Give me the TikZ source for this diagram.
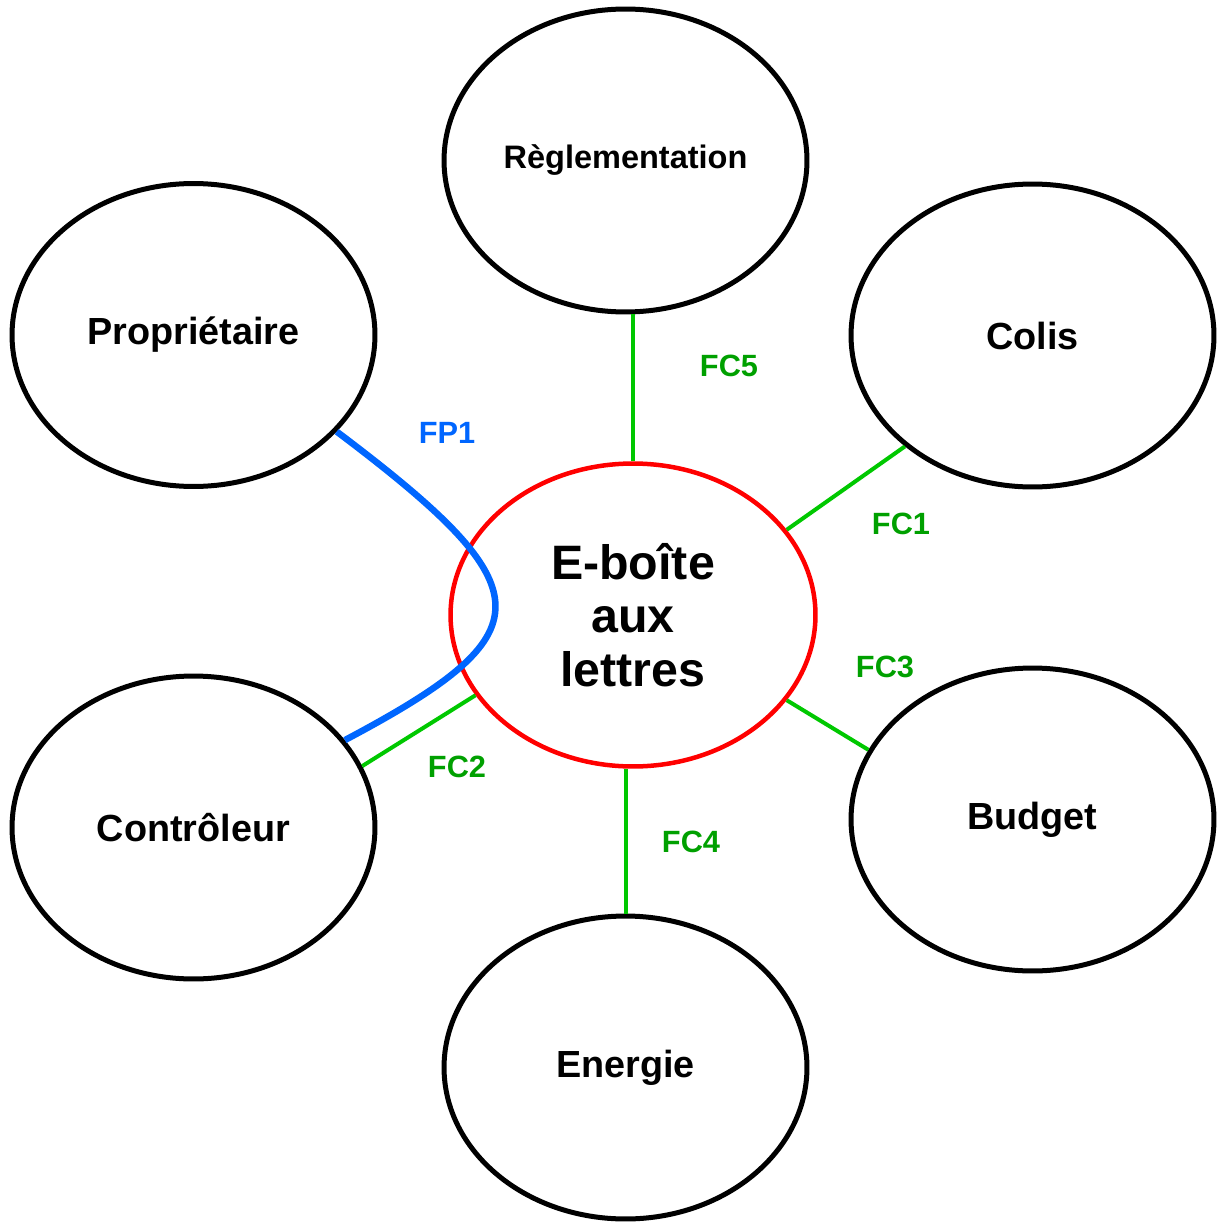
\documentclass[tikz,border=0pt]{standalone}
\usepackage{fontspec}
\setmainfont{Liberation Sans}
\usetikzlibrary{shapes.geometric, positioning}
\definecolor{fcline}{HTML}{00C800}
\definecolor{fctext}{HTML}{00A000}
\definecolor{fpblue}{HTML}{0066FF}

\tikzset{
  actor/.style={ellipse, draw=black, line width=0.1cm, minimum width=7.26cm,
    minimum height=6.06cm, inner sep=0pt, align=center,
    font=\fontsize{21.5}{25}\selectfont\bfseries},
  central/.style={actor, draw=red, line width=0.09cm, minimum width=7.3cm,
    font=\fontsize{27.5}{30.6}\selectfont\bfseries},
  fc/.style={draw=fcline, line width=0.08cm},
  fp/.style={draw=fpblue, line width=0.13cm},
  fclabel/.style={text=fctext, font=\fontsize{17.5}{20}\selectfont\bfseries},
  fplabel/.style={text=fpblue, font=\fontsize{17.5}{20}\selectfont\bfseries},
}

\begin{document}
\begin{tikzpicture}[x=0.02cm, y=-0.02cm]
            \useasboundingbox (0,0) rectangle (1217,1223);
            % Outer ellipses
            \node[actor, font=\fontsize{18.5}{22}\selectfont\bfseries] (regl) at (625.5, 160.5) {Règlementation};
            \node[actor] (prop) at (193.5, 335) {Propriétaire};
            \node[actor] (colis) at (1032.5, 335.5) {Colis};
            \node[actor] (ctrl) at (193.5, 827.5) {Contrôleur};
            \node[actor] (budget) at (1032.5, 819.5) {Budget};
            \node[actor] (energie) at (625.5, 1067.5) {Energie};
            % Central ellipse
            \node[central] (boite) at (633, 615) {E-boîte\\aux\\lettres};
            % Constraint functions
            \draw[fc] (boite.north) -- (boite.north |- regl.south);
            \draw[fc] (colis.221) -- (boite.29);
            \draw[fc] (boite.331) -- (budget.157.7);
            \draw[fc] (energie.north) -- (energie.north |- boite.south);
            \draw[fc] (boite.207) -- (ctrl.20.6);
            % Main function
            \draw[fp] (prop.326) .. controls (547, 590) and (547, 633) .. (ctrl.30);
            % Labels
            \node[fclabel] (fc5) at (729, 366) {FC5};
            \node[fclabel] (fc1) at (901, 524) {FC1};
            \node[fclabel] (fc3) at (885, 667) {FC3};
            \node[fclabel] (fc4) at (691, 842) {FC4};
            \node[fclabel] (fc2) at (457, 767) {FC2};
            \node[fplabel] (fp1) at (447, 433) {FP1};
\end{tikzpicture}
\end{document}
